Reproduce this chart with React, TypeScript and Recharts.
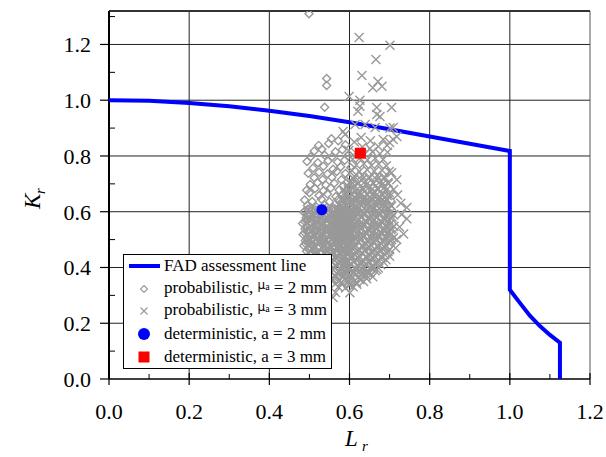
import { ScatterChart, Scatter, XAxis, YAxis, ReferenceLine } from "recharts";

// FAD assessment line (Lr, Kr)
const fadLr = [0, 0.1, 0.2, 0.3, 0.4, 0.5, 0.6, 0.7, 0.8, 0.9, 1.0, 1.0, 1.025, 1.05, 1.075, 1.1, 1.125, 1.125];
const fadKr = [1.0, 0.998, 0.99, 0.978, 0.962, 0.943, 0.921, 0.896, 0.87, 0.844, 0.818, 0.32, 0.273, 0.227, 0.19, 0.158, 0.13, 0.0];

// probabilistic results, mu_a = 2 mm (diamonds)
const probA2: [number, number][] = [
  [0.499, 1.31], [0.543, 1.078], [0.543, 1.053], [0.538, 0.975],
  [0.555, 0.862], [0.572, 0.855], [0.523, 0.838], [0.548, 0.845], [0.59, 0.84],
  [0.512, 0.818], [0.531, 0.824], [0.565, 0.815], [0.582, 0.822],
  [0.503, 0.797], [0.538, 0.803], [0.556, 0.796], [0.596, 0.8],
  [0.494, 0.78], [0.521, 0.776], [0.547, 0.783], [0.57, 0.778], [0.588, 0.785],
  [0.509, 0.757], [0.535, 0.763], [0.559, 0.752], [0.578, 0.761], [0.603, 0.758],
  [0.497, 0.738], [0.524, 0.742], [0.545, 0.735], [0.568, 0.744], [0.59, 0.737],
  [0.512, 0.722], [0.533, 0.716], [0.556, 0.724], [0.58, 0.715], [0.598, 0.721],
  [0.502, 0.698], [0.52, 0.704], [0.541, 0.696], [0.562, 0.702], [0.585, 0.694], [0.607, 0.7],
  [0.493, 0.677], [0.514, 0.683], [0.535, 0.675], [0.553, 0.685], [0.574, 0.678], [0.596, 0.682],
  [0.5, 0.668], [0.524, 0.658], [0.545, 0.664], [0.566, 0.655], [0.584, 0.662], [0.61, 0.657],
  [0.488, 0.642], [0.507, 0.637], [0.53, 0.645], [0.55, 0.636], [0.571, 0.643], [0.592, 0.638],
  [0.495, 0.622], [0.517, 0.617], [0.538, 0.624], [0.559, 0.615], [0.58, 0.621], [0.601, 0.618],
  [0.486, 0.598], [0.505, 0.603], [0.526, 0.596], [0.547, 0.602], [0.566, 0.594], [0.588, 0.601], [0.61, 0.597],
  [0.492, 0.578], [0.513, 0.583], [0.533, 0.575], [0.554, 0.582], [0.575, 0.577], [0.596, 0.584],
  [0.483, 0.558], [0.502, 0.562], [0.522, 0.555], [0.542, 0.561], [0.563, 0.554], [0.584, 0.56], [0.605, 0.556],
  [0.489, 0.538], [0.51, 0.543], [0.53, 0.535], [0.55, 0.541], [0.571, 0.536], [0.592, 0.542],
  [0.484, 0.518], [0.503, 0.514], [0.521, 0.522], [0.54, 0.515], [0.559, 0.521], [0.579, 0.514], [0.6, 0.52],
  [0.49, 0.497], [0.509, 0.503], [0.529, 0.496], [0.548, 0.502], [0.567, 0.495], [0.588, 0.501],
  [0.486, 0.478], [0.504, 0.482], [0.523, 0.475], [0.542, 0.481], [0.561, 0.477], [0.582, 0.483], [0.603, 0.476],
  [0.493, 0.458], [0.513, 0.462], [0.532, 0.455], [0.551, 0.461], [0.571, 0.456], [0.592, 0.46],
  [0.497, 0.438], [0.516, 0.443], [0.536, 0.436], [0.556, 0.442], [0.576, 0.437], [0.597, 0.441],
  [0.505, 0.418], [0.525, 0.422], [0.545, 0.415], [0.565, 0.421], [0.585, 0.416],
  [0.512, 0.398], [0.532, 0.403], [0.552, 0.396], [0.572, 0.402], [0.592, 0.397],
  [0.52, 0.378], [0.54, 0.383], [0.56, 0.376], [0.58, 0.381],
  [0.528, 0.358], [0.548, 0.362], [0.568, 0.356], [0.538, 0.34], [0.557, 0.344],
  [0.496, 0.609], [0.516, 0.606], [0.536, 0.611], [0.557, 0.607], [0.577, 0.61],
  [0.494, 0.589], [0.515, 0.592], [0.537, 0.587], [0.558, 0.591], [0.579, 0.588], [0.6, 0.59],
  [0.492, 0.569], [0.512, 0.572], [0.533, 0.566], [0.553, 0.571], [0.574, 0.567], [0.595, 0.57],
  [0.494, 0.548], [0.514, 0.551], [0.535, 0.546], [0.556, 0.55], [0.577, 0.546], [0.598, 0.549],
  [0.493, 0.529], [0.513, 0.531], [0.534, 0.526], [0.553, 0.53], [0.573, 0.527], [0.594, 0.53],
  [0.495, 0.508], [0.516, 0.511], [0.537, 0.507], [0.557, 0.51], [0.578, 0.506], [0.598, 0.509],
  [0.497, 0.488], [0.517, 0.491], [0.537, 0.486], [0.557, 0.49], [0.577, 0.487], [0.597, 0.489],
  [0.5, 0.468], [0.52, 0.471], [0.54, 0.466], [0.56, 0.47], [0.58, 0.467], [0.6, 0.469],
  [0.506, 0.448], [0.526, 0.451], [0.546, 0.446], [0.566, 0.45], [0.586, 0.447],
  [0.51, 0.428], [0.53, 0.431], [0.55, 0.426], [0.57, 0.43], [0.59, 0.427],
  [0.517, 0.408], [0.537, 0.411], [0.557, 0.406], [0.577, 0.41],
  [0.524, 0.388], [0.544, 0.391], [0.564, 0.386], [0.584, 0.39],
  [0.534, 0.368], [0.554, 0.371], [0.574, 0.367], [0.545, 0.35], [0.565, 0.352],
  [0.489, 0.603], [0.511, 0.598], [0.531, 0.606], [0.552, 0.597], [0.571, 0.604], [0.593, 0.595],
  [0.497, 0.584], [0.518, 0.579], [0.539, 0.586], [0.56, 0.577], [0.581, 0.585], [0.602, 0.576],
  [0.488, 0.565], [0.507, 0.559], [0.528, 0.566], [0.548, 0.557], [0.569, 0.564], [0.589, 0.558],
  [0.492, 0.545], [0.516, 0.539], [0.537, 0.544], [0.559, 0.538], [0.58, 0.545], [0.601, 0.537],
  [0.488, 0.525], [0.508, 0.519], [0.527, 0.526], [0.547, 0.518], [0.566, 0.525], [0.586, 0.518],
  [0.494, 0.505], [0.514, 0.499], [0.533, 0.506], [0.553, 0.498], [0.573, 0.504], [0.593, 0.497],
  [0.49, 0.486], [0.51, 0.479], [0.53, 0.485], [0.55, 0.478], [0.57, 0.484], [0.59, 0.478],
  [0.497, 0.466], [0.517, 0.459], [0.537, 0.465], [0.557, 0.458], [0.577, 0.464], [0.596, 0.457],
  [0.501, 0.446], [0.521, 0.439], [0.541, 0.445], [0.561, 0.438], [0.581, 0.444],
  [0.507, 0.426], [0.527, 0.419], [0.547, 0.425], [0.567, 0.418], [0.587, 0.424],
  [0.515, 0.406], [0.535, 0.399], [0.555, 0.405], [0.575, 0.398],
  [0.522, 0.386], [0.542, 0.379], [0.562, 0.385], [0.58, 0.378],
  [0.531, 0.366], [0.551, 0.359], [0.571, 0.363],
  [0.503, 0.614], [0.524, 0.61], [0.544, 0.616], [0.565, 0.609], [0.586, 0.614],
  [0.5, 0.593], [0.521, 0.589], [0.542, 0.595], [0.563, 0.588], [0.584, 0.594], [0.605, 0.586],
  [0.497, 0.573], [0.518, 0.569], [0.538, 0.575], [0.559, 0.568], [0.58, 0.574], [0.6, 0.566],
  [0.499, 0.553], [0.52, 0.549], [0.54, 0.555], [0.561, 0.548], [0.582, 0.554], [0.603, 0.546],
  [0.497, 0.533], [0.517, 0.529], [0.538, 0.535], [0.558, 0.528], [0.578, 0.534], [0.598, 0.526],
  [0.5, 0.513], [0.52, 0.509], [0.541, 0.515], [0.561, 0.508], [0.581, 0.514], [0.601, 0.506],
  [0.495, 0.493], [0.515, 0.489], [0.535, 0.495], [0.555, 0.488], [0.575, 0.494], [0.595, 0.486],
  [0.502, 0.473], [0.522, 0.469], [0.542, 0.475], [0.562, 0.468], [0.582, 0.474],
  [0.507, 0.453], [0.527, 0.449], [0.547, 0.455], [0.567, 0.448], [0.587, 0.454],
  [0.513, 0.433], [0.533, 0.429], [0.553, 0.435], [0.573, 0.428], [0.593, 0.434],
  [0.519, 0.413], [0.539, 0.409], [0.559, 0.415], [0.579, 0.408],
  [0.527, 0.393], [0.547, 0.389], [0.567, 0.395], [0.586, 0.388],
];

// probabilistic results, mu_a = 3 mm (crosses)
const probA3: [number, number][] = [
  [0.624, 1.225], [0.701, 1.197], [0.666, 1.146], [0.631, 1.089], [0.671, 1.067], [0.658, 1.045],
  [0.681, 1.05], [0.599, 1.013], [0.626, 1.0], [0.668, 0.974], [0.705, 0.974], [0.626, 0.978],
  [0.676, 0.942], [0.709, 0.902], [0.718, 0.87], [0.589, 0.877], [0.668, 0.949], [0.621, 0.96],
  [0.639, 0.913], [0.614, 0.913], [0.701, 0.9], [0.664, 0.902], [0.584, 0.888], [0.709, 0.859],
  [0.684, 0.859], [0.629, 0.866], [0.652, 0.855], [0.694, 0.838], [0.612, 0.85], [0.598, 0.82],
  [0.743, 0.615], [0.743, 0.575], [0.73, 0.59], [0.725, 0.545], [0.718, 0.5], [0.715, 0.47],
  [0.735, 0.52], [0.718, 0.715], [0.705, 0.74], [0.7, 0.848], [0.72, 0.66], [0.71, 0.68], [0.728, 0.63],
  [0.632, 0.832], [0.651, 0.827], [0.672, 0.834],
  [0.615, 0.812], [0.638, 0.806], [0.657, 0.815], [0.676, 0.808], [0.695, 0.813],
  [0.608, 0.788], [0.626, 0.793], [0.645, 0.786], [0.664, 0.792], [0.684, 0.787],
  [0.617, 0.768], [0.636, 0.772], [0.655, 0.766], [0.673, 0.771], [0.692, 0.765],
  [0.606, 0.748], [0.625, 0.744], [0.644, 0.751], [0.662, 0.745], [0.681, 0.75], [0.699, 0.744],
  [0.612, 0.727], [0.631, 0.731], [0.65, 0.725], [0.669, 0.73], [0.688, 0.724],
  [0.603, 0.708], [0.621, 0.703], [0.64, 0.709], [0.659, 0.704], [0.678, 0.71], [0.696, 0.705],
  [0.595, 0.688], [0.614, 0.692], [0.632, 0.686], [0.651, 0.691], [0.67, 0.685], [0.689, 0.69],
  [0.588, 0.668], [0.606, 0.663], [0.625, 0.669], [0.643, 0.664], [0.662, 0.67], [0.681, 0.665], [0.7, 0.668],
  [0.58, 0.648], [0.598, 0.652], [0.617, 0.646], [0.636, 0.651], [0.655, 0.645], [0.674, 0.65], [0.693, 0.646],
  [0.574, 0.628], [0.591, 0.623], [0.61, 0.629], [0.628, 0.624], [0.647, 0.63], [0.666, 0.625], [0.685, 0.629], [0.703, 0.624],
  [0.568, 0.608], [0.585, 0.612], [0.603, 0.606], [0.622, 0.611], [0.641, 0.605], [0.66, 0.61], [0.679, 0.606], [0.697, 0.611],
  [0.562, 0.588], [0.579, 0.583], [0.597, 0.589], [0.616, 0.584], [0.635, 0.59], [0.654, 0.585], [0.673, 0.589], [0.692, 0.584], [0.71, 0.588],
  [0.566, 0.568], [0.584, 0.572], [0.603, 0.566], [0.622, 0.571], [0.641, 0.565], [0.66, 0.57], [0.679, 0.566], [0.698, 0.571],
  [0.56, 0.548], [0.578, 0.543], [0.597, 0.549], [0.616, 0.544], [0.635, 0.55], [0.654, 0.545], [0.673, 0.549], [0.692, 0.544], [0.711, 0.548],
  [0.565, 0.528], [0.584, 0.532], [0.603, 0.526], [0.622, 0.531], [0.641, 0.525], [0.66, 0.53], [0.679, 0.526], [0.698, 0.531],
  [0.558, 0.508], [0.577, 0.503], [0.596, 0.509], [0.615, 0.504], [0.634, 0.51], [0.653, 0.505], [0.672, 0.509], [0.691, 0.504], [0.71, 0.507],
  [0.564, 0.488], [0.583, 0.492], [0.602, 0.486], [0.621, 0.491], [0.64, 0.485], [0.659, 0.49], [0.678, 0.486], [0.697, 0.489],
  [0.568, 0.468], [0.587, 0.463], [0.606, 0.469], [0.625, 0.464], [0.644, 0.47], [0.663, 0.465], [0.682, 0.469], [0.7, 0.464],
  [0.574, 0.448], [0.593, 0.452], [0.612, 0.446], [0.631, 0.451], [0.65, 0.445], [0.669, 0.45], [0.688, 0.446],
  [0.578, 0.428], [0.597, 0.423], [0.616, 0.429], [0.635, 0.424], [0.654, 0.43], [0.673, 0.425], [0.691, 0.428],
  [0.583, 0.408], [0.602, 0.412], [0.621, 0.406], [0.64, 0.411], [0.659, 0.405], [0.678, 0.41],
  [0.588, 0.388], [0.607, 0.383], [0.626, 0.389], [0.645, 0.384], [0.664, 0.388],
  [0.585, 0.368], [0.604, 0.372], [0.623, 0.366], [0.642, 0.371], [0.658, 0.367],
  [0.58, 0.348], [0.598, 0.352], [0.617, 0.346], [0.635, 0.35],
  [0.572, 0.33], [0.59, 0.326], [0.609, 0.331], [0.565, 0.31], [0.601, 0.309], [0.559, 0.292],
  [0.596, 0.345], [0.601, 0.356], [0.659, 0.399], [0.7, 0.44],
  [0.611, 0.717], [0.63, 0.714], [0.649, 0.72], [0.668, 0.715], [0.687, 0.719],
  [0.604, 0.698], [0.623, 0.702], [0.641, 0.696], [0.66, 0.701], [0.679, 0.695], [0.697, 0.7],
  [0.597, 0.678], [0.615, 0.674], [0.634, 0.679], [0.652, 0.674], [0.671, 0.68], [0.69, 0.675],
  [0.589, 0.659], [0.607, 0.662], [0.626, 0.656], [0.645, 0.661], [0.664, 0.655], [0.683, 0.66], [0.701, 0.656],
  [0.583, 0.639], [0.6, 0.634], [0.619, 0.64], [0.637, 0.635], [0.656, 0.641], [0.675, 0.636], [0.694, 0.64],
  [0.577, 0.619], [0.594, 0.623], [0.612, 0.617], [0.631, 0.622], [0.65, 0.616], [0.669, 0.621], [0.688, 0.617], [0.705, 0.62],
  [0.571, 0.599], [0.588, 0.594], [0.606, 0.6], [0.625, 0.595], [0.644, 0.601], [0.663, 0.596], [0.682, 0.6], [0.701, 0.595],
  [0.575, 0.579], [0.593, 0.583], [0.612, 0.577], [0.631, 0.582], [0.65, 0.576], [0.669, 0.581], [0.688, 0.577], [0.706, 0.581],
  [0.569, 0.559], [0.587, 0.554], [0.606, 0.56], [0.625, 0.555], [0.644, 0.561], [0.663, 0.556], [0.682, 0.56], [0.701, 0.555],
  [0.574, 0.539], [0.593, 0.543], [0.612, 0.537], [0.631, 0.542], [0.65, 0.536], [0.669, 0.541], [0.688, 0.537], [0.706, 0.54],
  [0.567, 0.519], [0.586, 0.514], [0.605, 0.52], [0.624, 0.515], [0.643, 0.521], [0.662, 0.516], [0.681, 0.52], [0.7, 0.515],
  [0.573, 0.499], [0.592, 0.503], [0.611, 0.497], [0.63, 0.502], [0.649, 0.496], [0.668, 0.501], [0.687, 0.497], [0.705, 0.5],
  [0.577, 0.479], [0.596, 0.474], [0.615, 0.48], [0.634, 0.475], [0.653, 0.481], [0.672, 0.476], [0.691, 0.48],
  [0.583, 0.459], [0.602, 0.463], [0.621, 0.457], [0.64, 0.462], [0.659, 0.456], [0.678, 0.461], [0.696, 0.457],
  [0.587, 0.439], [0.606, 0.434], [0.625, 0.44], [0.644, 0.435], [0.663, 0.441], [0.682, 0.436],
  [0.592, 0.419], [0.611, 0.423], [0.63, 0.417], [0.649, 0.422], [0.668, 0.416], [0.685, 0.42],
  [0.597, 0.399], [0.616, 0.394], [0.635, 0.4], [0.654, 0.395], [0.672, 0.398],
  [0.594, 0.379], [0.613, 0.383], [0.632, 0.377], [0.651, 0.382],
  [0.589, 0.359], [0.607, 0.363], [0.626, 0.357], [0.643, 0.36],
  [0.582, 0.339], [0.6, 0.336], [0.618, 0.34],
  [0.6, 0.657], [0.619, 0.661], [0.638, 0.654], [0.657, 0.66], [0.676, 0.653], [0.694, 0.658],
  [0.592, 0.637], [0.611, 0.641], [0.63, 0.634], [0.649, 0.64], [0.668, 0.633], [0.687, 0.638],
  [0.586, 0.617], [0.604, 0.62], [0.623, 0.613], [0.642, 0.619], [0.661, 0.613], [0.68, 0.618], [0.699, 0.612],
  [0.58, 0.597], [0.598, 0.6], [0.617, 0.593], [0.636, 0.599], [0.655, 0.593], [0.674, 0.598], [0.693, 0.592],
  [0.573, 0.577], [0.591, 0.58], [0.61, 0.573], [0.629, 0.579], [0.648, 0.573], [0.667, 0.578], [0.686, 0.572], [0.704, 0.576],
  [0.577, 0.557], [0.596, 0.56], [0.615, 0.553], [0.634, 0.559], [0.653, 0.553], [0.672, 0.558], [0.691, 0.552],
  [0.571, 0.537], [0.59, 0.54], [0.609, 0.533], [0.628, 0.539], [0.647, 0.533], [0.666, 0.538], [0.685, 0.532], [0.703, 0.536],
  [0.576, 0.517], [0.595, 0.52], [0.614, 0.513], [0.633, 0.519], [0.652, 0.513], [0.671, 0.518], [0.69, 0.512],
  [0.57, 0.497], [0.589, 0.5], [0.608, 0.493], [0.627, 0.499], [0.646, 0.493], [0.665, 0.498], [0.684, 0.492], [0.702, 0.496],
  [0.575, 0.477], [0.594, 0.48], [0.613, 0.473], [0.632, 0.479], [0.651, 0.473], [0.67, 0.478], [0.689, 0.472],
  [0.58, 0.457], [0.599, 0.46], [0.618, 0.453], [0.637, 0.459], [0.656, 0.453], [0.675, 0.458], [0.693, 0.452],
  [0.585, 0.437], [0.604, 0.44], [0.623, 0.433], [0.642, 0.439], [0.661, 0.433], [0.679, 0.438],
  [0.59, 0.417], [0.609, 0.42], [0.628, 0.413], [0.647, 0.419], [0.665, 0.413],
  [0.595, 0.397], [0.614, 0.4], [0.633, 0.393], [0.652, 0.399], [0.668, 0.393],
  [0.59, 0.377], [0.609, 0.38], [0.628, 0.373], [0.646, 0.378],
];

const detA2 = [{ x: 0.531, y: 0.607 }];
const detA3 = [{ x: 0.627, y: 0.81 }];

const xTicks = [0, 0.1, 0.2, 0.3, 0.4, 0.5, 0.6, 0.7, 0.8, 0.9, 1.0, 1.1, 1.2];
const yTicks = [0, 0.1, 0.2, 0.3, 0.4, 0.5, 0.6, 0.7, 0.8, 0.9, 1.0, 1.1, 1.2, 1.3];
const xGrid = [0.2, 0.4, 0.6, 0.8, 1.0];
const yGrid = [0.2, 0.4, 0.6, 0.8, 1.0, 1.2];

const fad = fadLr.map((x, i) => ({ x, y: fadKr[i] }));
const a2 = probA2.map(([x, y]) => ({ x, y }));
const a3 = probA3.map(([x, y]) => ({ x, y }));

const FONT = "'Liberation Serif', 'Times New Roman', Times, serif";
const GRAY = "#999999";

const isMajor = (v: number) => Math.round(v * 10) % 2 === 0;

const XTick = (props: any) => {
  const { x, y, payload } = props;
  const v = payload.value;
  if (!isMajor(v)) {
    return <line x1={x} x2={x} y1={y} y2={y - 5} stroke="#000" strokeWidth={1} />;
  }
  return (
    <g>
      <line x1={x} x2={x} y1={y - 6} y2={y + 6} stroke="#000" strokeWidth={1.2} />
      <text x={x} y={y + 40} textAnchor="middle" fontFamily={FONT} fontSize={22} fill="#000">
        {v.toFixed(1)}
      </text>
    </g>
  );
};

const YTick = (props: any) => {
  const { x, y, payload } = props;
  const v = payload.value;
  if (!isMajor(v)) {
    return <line x1={x} x2={x + 6} y1={y} y2={y} stroke="#000" strokeWidth={1} />;
  }
  return (
    <g>
      <line x1={x - 9} x2={x} y1={y} y2={y} stroke="#000" strokeWidth={1.2} />
      <text x={x - 18} y={y + 8} textAnchor="end" fontFamily={FONT} fontSize={22} fill="#000">
        {v.toFixed(1)}
      </text>
    </g>
  );
};

const Diamond = (props: any) => {
  const { cx, cy } = props;
  if (cx == null || cy == null) return <g />;
  return (
    <path
      d={`M${cx},${cy - 4}L${cx + 4},${cy}L${cx},${cy + 4}L${cx - 4},${cy}Z`}
      fill="none"
      stroke={GRAY}
      strokeWidth={1.4}
    />
  );
};

const Cross = (props: any) => {
  const { cx, cy } = props;
  if (cx == null || cy == null) return <g />;
  const s = 4.5;
  return (
    <path
      d={`M${cx - s},${cy - s}L${cx + s},${cy + s}M${cx - s},${cy + s}L${cx + s},${cy - s}`}
      stroke={GRAY}
      strokeWidth={1.4}
    />
  );
};

const Dot = (props: any) => <circle cx={props.cx} cy={props.cy} r={5.5} fill="#0000ff" />;
const Square = (props: any) => (
  <rect x={props.cx - 5.5} y={props.cy - 5.5} width={11} height={11} fill="#ff0000" />
);
const NoShape = () => <g />;

const Mu = ({ n }: { n: number }) => (
  <span>
    probabilistic,{" "}
    <span style={{ fontFamily: "'DejaVu Sans', sans-serif", fontSize: 12, position: "relative", top: -4 }}>μ</span>
    <span style={{ fontSize: 10, position: "relative", top: -3 }}>a</span> = {n} mm
  </span>
);

const legendRows = [
  { key: "fad", label: <span>FAD assessment line</span> },
  { key: "a2", label: <Mu n={2} /> },
  { key: "a3", label: <Mu n={3} /> },
  { key: "d2", label: <span>deterministic, a = 2 mm</span> },
  { key: "d3", label: <span>deterministic, a = 3 mm</span> },
];

const LegendMarker = ({ k }: { k: string }) => (
  <svg width={40} height={22} style={{ display: "block" }}>
    {k === "fad" && <line x1={5} x2={36} y1={11} y2={11} stroke="#0000ff" strokeWidth={4} />}
    {k === "a2" && <path d="M20,7.5L23.5,11L20,14.5L16.5,11Z" fill="none" stroke={GRAY} strokeWidth={1.1} />}
    {k === "a3" && <path d="M16.5,7.5L23.5,14.5M16.5,14.5L23.5,7.5" stroke={GRAY} strokeWidth={1.1} />}
    {k === "d2" && <circle cx={20} cy={11} r={6} fill="#0000ff" />}
    {k === "d3" && <rect x={14.5} y={5.5} width={11} height={11} fill="#ff0000" />}
  </svg>
);

export default function App() {
  return (
    <div style={{ position: "relative", width: 606, height: 457, background: "#fff" }}>
      <style>{"html,body{margin:0;padding:0;overflow:hidden}"}</style>
      <ScatterChart width={606} height={457} margin={{ top: 11, right: 16, bottom: 18, left: 49 }}>
        {xGrid.map((v) => (
          <ReferenceLine key={"gx" + v} x={v} stroke="#222" strokeWidth={1} />
        ))}
        {yGrid.map((v) => (
          <ReferenceLine key={"gy" + v} y={v} stroke="#222" strokeWidth={1} />
        ))}
        <ReferenceLine x={1.2} stroke="#555" strokeWidth={1} />
        <ReferenceLine y={1.32} stroke="#333" strokeWidth={2} />
        <XAxis
          type="number"
          dataKey="x"
          domain={[0, 1.2]}
          ticks={xTicks}
          allowDataOverflow
          height={60}
          tickSize={0}
          tickMargin={0}
          tickLine={false}
          tick={<XTick />}
          interval={0}
          axisLine={{ stroke: "#000", strokeWidth: 1.5 }}
          label={{
            content: () => (
              <g>
                <text x={345} y={446} fontFamily={FONT} fontSize={23} fontStyle="italic" fill="#000">L</text>
                <text x={362} y={451} fontFamily={FONT} fontSize={15} fontStyle="italic" fill="#000">r</text>
              </g>
            ),
          }}
        />
        <YAxis
          type="number"
          dataKey="y"
          domain={[0, 1.32]}
          ticks={yTicks}
          allowDataOverflow
          width={60}
          tickSize={0}
          tickMargin={0}
          tickLine={false}
          tick={<YTick />}
          interval={0}
          axisLine={{ stroke: "#000", strokeWidth: 2 }}
          label={{
            content: () => (
              <g transform="translate(40,209) rotate(-90)">
                <text x={0} y={0} fontFamily={FONT} fontSize={23} fontStyle="italic" fill="#000">K</text>
                <text x={15} y={5} fontFamily={FONT} fontSize={15} fontStyle="italic" fill="#000">r</text>
              </g>
            ),
          }}
        />
        <Scatter
          data={fad}
          line={{ stroke: "#0000ff", strokeWidth: 4 }}
          lineJointType="linear"
          shape={<NoShape />}
          isAnimationActive={false}
        />
        <Scatter data={a2} shape={<Diamond />} isAnimationActive={false} />
        <Scatter data={a3} shape={<Cross />} isAnimationActive={false} />
        <Scatter data={detA2} shape={<Dot />} isAnimationActive={false} />
        <Scatter data={detA3} shape={<Square />} isAnimationActive={false} />
      </ScatterChart>
      <div
        style={{
          position: "absolute",
          left: 123,
          top: 254,
          width: 209,
          height: 115,
          boxSizing: "border-box",
          border: "1px solid #000",
          background: "#fff",
          fontFamily: FONT,
          fontSize: 17,
          color: "#000",
        }}
      >
        {legendRows.map((r) => (
          <div key={r.key} style={{ display: "flex", alignItems: "center", height: 22.6, whiteSpace: "nowrap" }}>
            <LegendMarker k={r.key} />
            <div style={{ lineHeight: "22px" }}>{r.label}</div>
          </div>
        ))}
      </div>
    </div>
  );
}
